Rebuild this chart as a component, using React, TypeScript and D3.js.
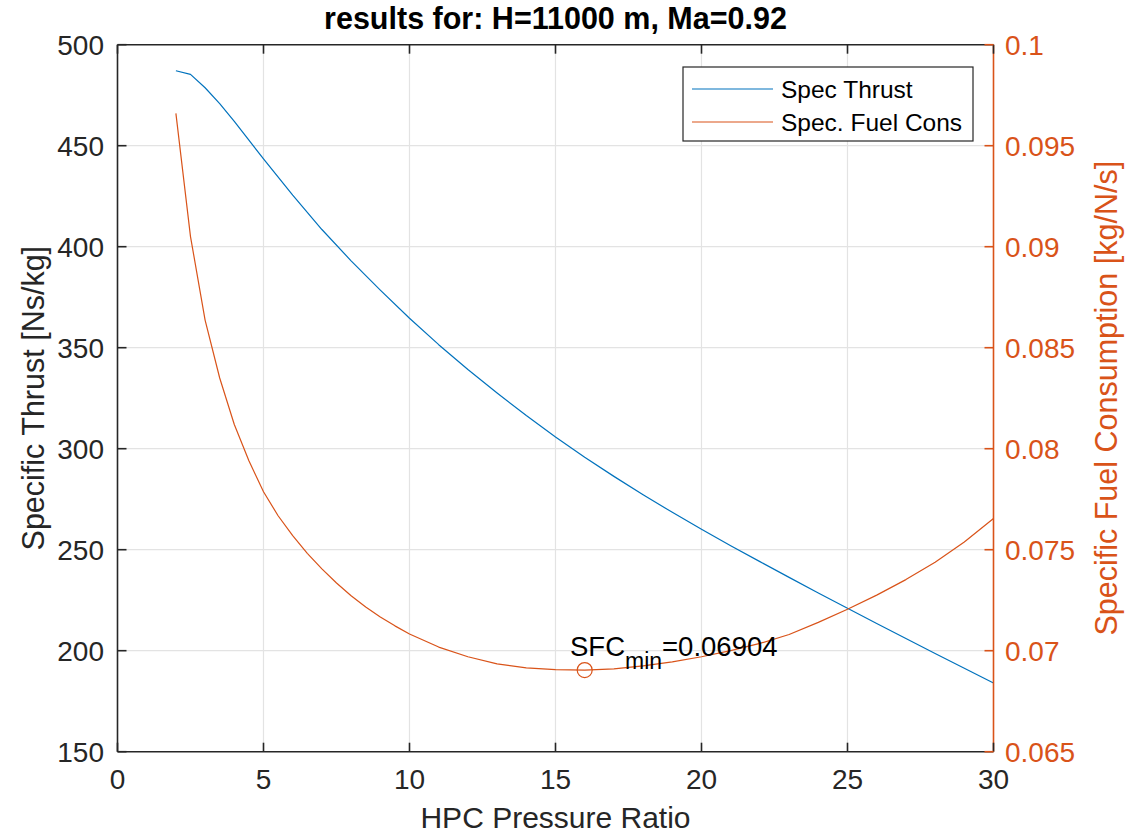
import React from "react";
import * as d3 from "d3";

const pressureRatioThrust = [2, 2.5, 3, 3.5, 4, 5, 6, 7, 8, 9, 10, 11, 12, 13, 14, 15, 16, 17, 18, 19, 20, 21, 22, 23, 24, 25, 26, 27, 28, 29, 30];
const specThrust = [487.1, 485.3, 478.7, 470.8, 462, 443.5, 425.5, 408.5, 393, 378.5, 364.6, 351.5, 339.2, 327.6, 316.4, 305.8, 295.8, 286.3, 277.2, 268.5, 260.1, 252, 244.1, 236.3, 228.6, 221, 213.5, 206, 198.6, 191.3, 184];

const pressureRatioSfc = [2, 2.5, 3, 3.5, 4, 4.5, 5, 5.5, 6, 6.5, 7, 7.5, 8, 8.5, 9, 9.5, 10, 11, 12, 13, 14, 15, 16, 17, 18, 19, 20, 21, 22, 23, 24, 25, 26, 27, 28, 29, 30];
const specFuelCons = [0.0966, 0.0905, 0.08637, 0.0835, 0.0812, 0.0794, 0.07787, 0.07668, 0.0757, 0.07482, 0.07405, 0.07335, 0.07272, 0.07216, 0.07167, 0.07123, 0.07083, 0.07018, 0.0697, 0.06935, 0.06915, 0.06906, 0.06904, 0.0691, 0.06925, 0.06945, 0.0697, 0.07, 0.07036, 0.0708, 0.0714, 0.07205, 0.07275, 0.07352, 0.07438, 0.07538, 0.07654];

const xTicks = [0, 5, 10, 15, 20, 25, 30];
const yLeftTicks = [150, 200, 250, 300, 350, 400, 450, 500];
const yRightTicks = [0.065, 0.07, 0.075, 0.08, 0.085, 0.09, 0.095, 0.1];
const yRightLabels = ["0.065", "0.07", "0.075", "0.08", "0.085", "0.09", "0.095", "0.1"];

const sfcMin = { x: 16, y: 0.06904, label: "=0.06904" };
const titleText = "results for: H=11000 m, Ma=0.92";
const seriesNames = ["Spec Thrust", "Spec. Fuel Cons"];

const BLUE = "#0072BD";
const ORANGE = "#D95319";
const DARK = "#262626";
const GRID = "#e3e3e3";
const FONT = "'Liberation Sans', Arial, Helvetica, sans-serif";

export default function App() {
  const left = 117.5, right = 993.5, top = 44.7, bottom = 751.7;
  const x = d3.scaleLinear().domain([0, 30]).range([left, right]);
  const yL = d3.scaleLinear().domain([150, 500]).range([bottom, top]);
  const yR = d3.scaleLinear().domain([0.065, 0.1]).range([bottom, top]);
  const tick = 9;
  const tickFont = 28;
  const labelFont = 30.5;

  const thrustLine = d3.line<number>()
    .x((_, i) => x(pressureRatioThrust[i]))
    .y((d) => yL(d))(specThrust) as string;
  const sfcLine = d3.line<number>()
    .x((_, i) => x(pressureRatioSfc[i]))
    .y((d) => yR(d))(specFuelCons) as string;

  const legX = 683, legY = 67, legW = 290, legH = 74;

  return (
    <svg width={1134} height={835} style={{ position: "absolute", left: 0, top: 0, background: "#fff" }} fontFamily={FONT}>
      <rect x={0} y={0} width={1134} height={835} fill="#fff" />
      {/* grid */}
      {xTicks.slice(1, -1).map((t) => (
        <line key={"gx" + t} x1={x(t)} x2={x(t)} y1={top} y2={bottom} stroke={GRID} strokeWidth={1.2} />
      ))}
      {yLeftTicks.slice(1, -1).map((t) => (
        <line key={"gy" + t} x1={left} x2={right} y1={yL(t)} y2={yL(t)} stroke={GRID} strokeWidth={1.2} />
      ))}

      {/* data */}
      <path d={thrustLine} fill="none" stroke={BLUE} strokeWidth={1.2} strokeLinejoin="round" />
      <path d={sfcLine} fill="none" stroke={ORANGE} strokeWidth={1.2} strokeLinejoin="round" />
      <circle cx={x(sfcMin.x)} cy={yR(sfcMin.y)} r={7.5} fill="none" stroke={ORANGE} strokeWidth={1.2} />
      <text x={570} y={656} fontSize={27.5} fill="#000">
        SFC
        <tspan dy={13} fontSize={23}>min</tspan>
        <tspan dy={-13}>{sfcMin.label}</tspan>
      </text>

      {/* axes box */}
      <line x1={left} x2={right} y1={top} y2={top} stroke={DARK} strokeWidth={1.6} />
      <line x1={left} x2={right} y1={bottom} y2={bottom} stroke={DARK} strokeWidth={1.6} />
      <line x1={left} x2={left} y1={top} y2={bottom} stroke={DARK} strokeWidth={1.6} />
      <line x1={right} x2={right} y1={top} y2={bottom} stroke={ORANGE} strokeWidth={1.6} />

      {/* x ticks */}
      {xTicks.map((t) => (
        <g key={"xt" + t}>
          <line x1={x(t)} x2={x(t)} y1={bottom} y2={bottom - tick} stroke={DARK} strokeWidth={1.6} />
          <line x1={x(t)} x2={x(t)} y1={top} y2={top + tick} stroke={DARK} strokeWidth={1.6} />
          <text x={x(t)} y={789} fontSize={tickFont} textAnchor="middle" fill={DARK}>{t}</text>
        </g>
      ))}
      {/* left y ticks */}
      {yLeftTicks.map((t) => (
        <g key={"yl" + t}>
          <line x1={left} x2={left + tick} y1={yL(t)} y2={yL(t)} stroke={DARK} strokeWidth={1.6} />
          <text x={104} y={yL(t) + 10} fontSize={tickFont} textAnchor="end" fill={DARK}>{t}</text>
        </g>
      ))}
      {/* right y ticks */}
      {yRightTicks.map((t, i) => (
        <g key={"yr" + t}>
          <line x1={right} x2={right - tick} y1={yR(t)} y2={yR(t)} stroke={ORANGE} strokeWidth={1.6} />
          <text x={1005} y={yR(t) + 10} fontSize={tickFont} textAnchor="start" fill={ORANGE}>{yRightLabels[i]}</text>
        </g>
      ))}

      {/* labels */}
      <text x={(left + right) / 2} y={29} fontSize={labelFont} fontWeight="bold" textAnchor="middle" fill="#000">{titleText}</text>
      <text x={(left + right) / 2} y={828} fontSize={30} textAnchor="middle" fill={DARK}>HPC Pressure Ratio</text>
      <text transform={`translate(44, ${(top + bottom) / 2}) rotate(-90)`} fontSize={labelFont} textAnchor="middle" fill={DARK}>Specific Thrust [Ns/kg]</text>
      <text transform={`translate(1117, ${(top + bottom) / 2}) rotate(-90)`} fontSize={labelFont} textAnchor="middle" fill={ORANGE}>Specific Fuel Consumption [kg/N/s]</text>

      {/* legend */}
      <rect x={legX} y={legY} width={legW} height={legH} fill="#fff" stroke={DARK} strokeWidth={1.2} />
      <line x1={692} x2={773} y1={89} y2={89} stroke={BLUE} strokeWidth={1.2} />
      <text x={781} y={97.5} fontSize={24.5} fill="#000">{seriesNames[0]}</text>
      <line x1={692} x2={773} y1={122} y2={122} stroke={ORANGE} strokeWidth={1.2} />
      <text x={781} y={130.5} fontSize={24.5} fill="#000">{seriesNames[1]}</text>
    </svg>
  );
}
